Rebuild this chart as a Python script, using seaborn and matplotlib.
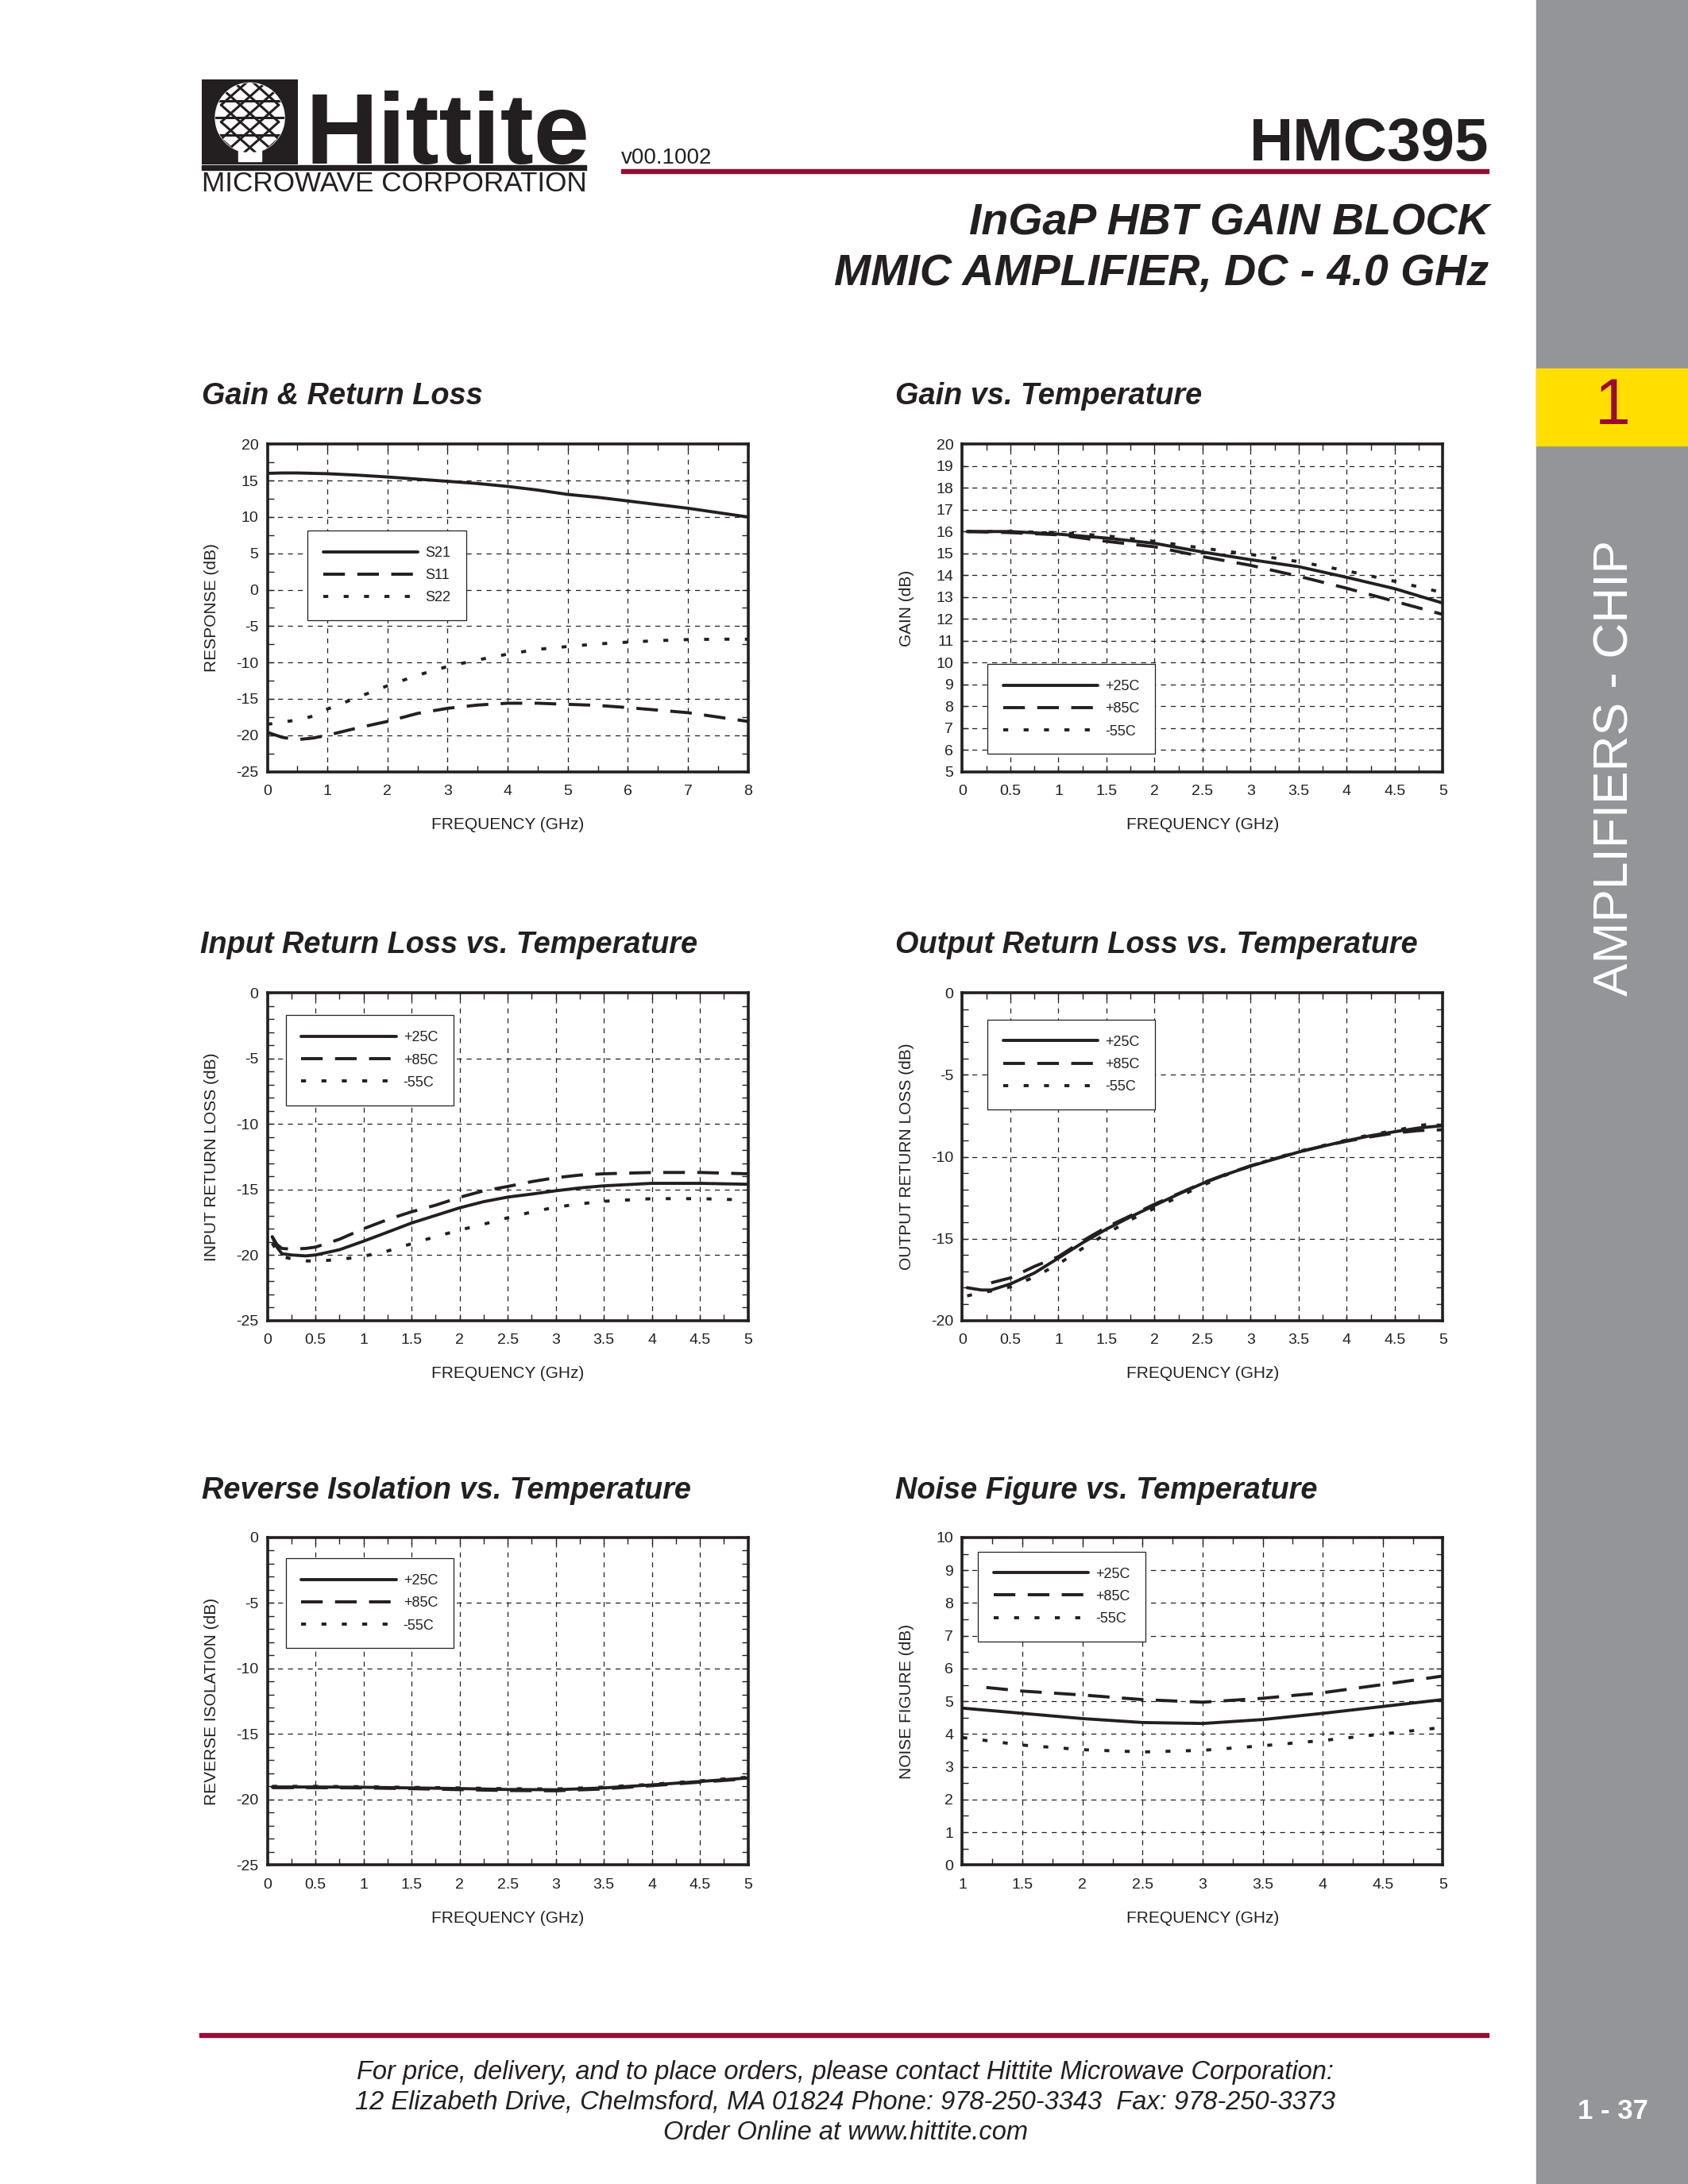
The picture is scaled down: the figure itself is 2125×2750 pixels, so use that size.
import numpy as np
import pandas as pd
import matplotlib
matplotlib.use("Agg")
import matplotlib.pyplot as plt
from matplotlib import font_manager
from matplotlib.patches import Rectangle, Ellipse
from matplotlib.ticker import MultipleLocator
import seaborn as sns

# ---- data ----
# Gain & Return Loss
gr_freq = [0, 0.25, 0.5, 0.75, 1, 1.5, 2, 2.5, 3, 3.5, 4, 4.5, 5, 5.5, 6, 6.5, 7, 7.5, 8]
s21 = [16.0, 16.05, 16.05, 16.0, 15.95, 15.75, 15.5, 15.2, 14.9, 14.6, 14.2, 13.7, 13.1, 12.7, 12.2, 11.7, 11.2, 10.6, 10.0]
s11 = [-19.6, -20.3, -20.6, -20.4, -20.0, -19.0, -18.1, -17.0, -16.3, -15.85, -15.6, -15.6, -15.75, -15.9, -16.2, -16.55, -16.9, -17.5, -18.1]
s22 = [-18.5, -18.2, -17.9, -17.4, -16.4, -14.8, -13.2, -11.75, -10.55, -9.65, -8.85, -8.2, -7.8, -7.45, -7.2, -7.0, -6.85, -6.8, -6.8]

# Gain vs Temperature
gain_freq = [0.05, 0.5, 1, 1.5, 2, 2.5, 3, 3.5, 4, 4.5, 5]
gain_25 = [16.0, 16.0, 15.88, 15.7, 15.46, 15.06, 14.71, 14.39, 13.9, 13.38, 12.72]
gain_85 = [16.0, 15.95, 15.85, 15.55, 15.3, 14.85, 14.45, 13.95, 13.4, 12.8, 12.2]
gain_m55 = [16.0, 16.0, 15.95, 15.8, 15.55, 15.24, 14.95, 14.62, 14.2, 13.72, 13.2]

# Input Return Loss vs Temperature
irl_freq = [0.05, 0.1, 0.15, 0.25, 0.4, 0.5, 0.75, 1, 1.25, 1.5, 1.75, 2, 2.25, 2.5, 2.75, 3, 3.25, 3.5, 4, 4.5, 5]
irl_25 = [-18.6, -19.4, -19.9, -20.0, -20.07, -20.0, -19.6, -18.95, -18.26, -17.56, -16.98, -16.4, -15.93, -15.58, -15.35, -15.1, -14.88, -14.72, -14.53, -14.53, -14.6]
irl_85 = [-18.6, -19.2, -19.5, -19.55, -19.5, -19.4, -18.8, -18.0, -17.3, -16.7, -16.2, -15.6, -15.1, -14.77, -14.4, -14.1, -13.9, -13.8, -13.7, -13.7, -13.8]
irl_m55 = [-19.1, -19.7, -20.1, -20.3, -20.45, -20.47, -20.35, -20.1, -19.7, -19.14, -18.6, -18.1, -17.65, -17.16, -16.72, -16.35, -16.1, -15.9, -15.7, -15.7, -15.8]

# Output Return Loss vs Temperature
orl_freq = [0.05, 0.2, 0.3, 0.5, 0.75, 1, 1.25, 1.5, 1.75, 2, 2.25, 2.5, 2.75, 3, 3.25, 3.5, 3.75, 4, 4.25, 4.5, 4.75, 5]
orl_25 = [-18.0, -18.14, -18.14, -17.77, -17.1, -16.19, -15.26, -14.42, -13.67, -12.97, -12.28, -11.63, -11.07, -10.57, -10.14, -9.71, -9.36, -9.02, -8.71, -8.47, -8.24, -8.1]
orl_85_freq = [0.3, 0.5, 0.75, 1, 1.25, 1.5, 1.75, 2, 2.25, 2.5, 2.75, 3, 3.25, 3.5, 3.75, 4, 4.25, 4.5, 4.75, 5]
orl_85 = [-17.7, -17.4, -16.7, -16.1, -15.15, -14.3, -13.6, -12.9, -12.25, -11.6, -11.05, -10.55, -10.12, -9.7, -9.35, -9.05, -8.78, -8.55, -8.4, -8.35]
orl_m55 = [-18.5, -18.3, -18.2, -17.95, -17.35, -16.55, -15.6, -14.7, -13.85, -13.15, -12.45, -11.75, -11.1, -10.57, -10.1, -9.67, -9.32, -8.98, -8.65, -8.4, -8.1, -7.9]

# Reverse Isolation vs Temperature
riso_freq = [0.05, 0.5, 1, 1.5, 2, 2.5, 3, 3.5, 4, 4.5, 5]
riso_25 = [-19.05, -19.05, -19.07, -19.12, -19.17, -19.24, -19.26, -19.12, -18.89, -18.63, -18.36]
riso_85 = [-19.1, -19.1, -19.12, -19.18, -19.25, -19.32, -19.34, -19.2, -18.95, -18.68, -18.42]
riso_m55 = [-19.0, -19.0, -19.03, -19.08, -19.12, -19.18, -19.2, -19.06, -18.84, -18.58, -18.3]

# Noise Figure vs Temperature
nf_freq = [1, 1.5, 2, 2.5, 3, 3.5, 4, 4.5, 5]
nf_25 = [4.79, 4.63, 4.47, 4.35, 4.32, 4.44, 4.63, 4.84, 5.05]
nf_85_freq = [1.2, 1.5, 2, 2.5, 3, 3.5, 4, 4.5, 5]
nf_85 = [5.42, 5.31, 5.19, 5.05, 4.97, 5.09, 5.26, 5.51, 5.77]
nf_m55 = [3.89, 3.66, 3.52, 3.45, 3.5, 3.64, 3.8, 4.0, 4.2]

temp_labels = ["+25C", "+85C", "-55C"]

# ---- style ----
sns.set_theme(style="ticks")
available = {f.name for f in font_manager.fontManager.ttflist}
NARROW = "Liberation Sans Narrow" if "Liberation Sans Narrow" in available else None
plt.rcParams["font.family"] = ["Liberation Sans", "DejaVu Sans"]
plt.rcParams["axes.unicode_minus"] = False

INK = "#231F20"
RED = "#9B0A33"
GRAY = "#939598"
YELLOW = "#FFDE00"

SOLID = "-"
DASH = (0, (7, 4))
DOT = (0, (1.6, 5.0))
LW = 2.8

fig = plt.figure(figsize=(21.25, 27.5), dpi=100)
fig.patch.set_facecolor("white")


def setup_axes(ax, xlim, ylim, xmaj, xmin, ymaj, ymin, ylabel):
    ax.set_xlim(*xlim)
    ax.set_ylim(*ylim)
    ax.xaxis.set_major_locator(MultipleLocator(xmaj))
    ax.xaxis.set_minor_locator(MultipleLocator(xmin))
    ax.yaxis.set_major_locator(MultipleLocator(ymaj))
    if ymin:
        ax.yaxis.set_minor_locator(MultipleLocator(ymin))
    ax.xaxis.set_major_formatter(plt.FuncFormatter(lambda v, p: f"{v:g}"))
    ax.yaxis.set_major_formatter(plt.FuncFormatter(lambda v, p: f"{v:g}"))
    ax.grid(True, which="major", color=INK, lw=0.9, linestyle=(0, (5, 5)))
    ax.tick_params(which="both", direction="in", top=True, right=True,
                   color=INK, width=1.0)
    ax.tick_params(which="major", length=6, labelsize=14, labelcolor=INK)
    ax.tick_params(which="minor", length=6)
    ax.tick_params(axis="x", which="major", pad=12)
    ax.tick_params(axis="y", which="major", pad=8)
    for sp in ax.spines.values():
        sp.set_visible(True)
        sp.set_linewidth(2.6)
        sp.set_color(INK)
    ax.set_xlabel("FREQUENCY (GHz)", fontsize=15, color=INK)
    ax.set_ylabel(ylabel, fontsize=15, color=INK)
    ax.xaxis.set_label_coords(0.5, -0.14)
    ax.yaxis.set_label_coords(-0.10, 0.5)
    ax.set_axisbelow(True)


def draw(ax, x, y, ls, label):
    sns.lineplot(x=x, y=y, ax=ax, color=INK, lw=LW, linestyle=ls, label=label,
                 errorbar=None, legend=False)


def add_legend(ax, anchor):
    leg = ax.legend(loc="upper left", bbox_to_anchor=anchor, borderaxespad=0,
                    fontsize=13, handlelength=6.6, handletextpad=0.5,
                    borderpad=1.1, labelspacing=0.62, fancybox=False,
                    framealpha=1, edgecolor=INK, facecolor="white")
    leg.get_frame().set_linewidth(0.9)
    for t in leg.get_texts():
        t.set_color(INK)


col_x = [0.1584, 0.5701]
row_y = [0.6467, 0.3954, 0.1461]
AW, AH = 0.2847, 0.1499

# Gain & Return Loss
ax1 = fig.add_axes([col_x[0], row_y[0], AW, AH])
draw(ax1, gr_freq, s21, SOLID, "S21")
draw(ax1, gr_freq, s11, DASH, "S11")
draw(ax1, gr_freq, s22, DOT, "S22")
setup_axes(ax1, (0, 8), (-25, 20), 1, 0.5, 5, 2.5, "RESPONSE (dB)")
add_legend(ax1, (0.084, 0.736))

# Gain vs Temperature
ax2 = fig.add_axes([col_x[1], row_y[0], AW, AH])
draw(ax2, gain_freq, gain_25, SOLID, temp_labels[0])
draw(ax2, gain_freq, gain_85, DASH, temp_labels[1])
draw(ax2, gain_freq, gain_m55, DOT, temp_labels[2])
setup_axes(ax2, (0, 5), (5, 20), 0.5, 0.25, 1, None, "GAIN (dB)")
add_legend(ax2, (0.052, 0.328))

# Input Return Loss vs Temperature
ax3 = fig.add_axes([col_x[0], row_y[1], AW, AH])
draw(ax3, irl_freq, irl_25, SOLID, temp_labels[0])
draw(ax3, irl_freq, irl_85, DASH, temp_labels[1])
draw(ax3, irl_freq, irl_m55, DOT, temp_labels[2])
setup_axes(ax3, (0, 5), (-25, 0), 0.5, 0.25, 5, 1, "INPUT RETURN LOSS (dB)")
add_legend(ax3, (0.038, 0.932))

# Output Return Loss vs Temperature
ax4 = fig.add_axes([col_x[1], row_y[1], AW, AH])
draw(ax4, orl_freq, orl_25, SOLID, temp_labels[0])
draw(ax4, orl_85_freq, orl_85, DASH, temp_labels[1])
draw(ax4, orl_freq, orl_m55, DOT, temp_labels[2])
setup_axes(ax4, (0, 5), (-20, 0), 0.5, 0.25, 5, 1, "OUTPUT RETURN LOSS (dB)")
add_legend(ax4, (0.052, 0.919))

# Reverse Isolation vs Temperature
ax5 = fig.add_axes([col_x[0], row_y[2], AW, AH])
draw(ax5, riso_freq, riso_25, SOLID, temp_labels[0])
draw(ax5, riso_freq, riso_85, DASH, temp_labels[1])
draw(ax5, riso_freq, riso_m55, DOT, temp_labels[2])
setup_axes(ax5, (0, 5), (-25, 0), 0.5, 0.25, 5, 1, "REVERSE ISOLATION (dB)")
add_legend(ax5, (0.038, 0.936))

# Noise Figure vs Temperature
ax6 = fig.add_axes([col_x[1], row_y[2], AW, AH])
draw(ax6, nf_freq, nf_25, SOLID, temp_labels[0])
draw(ax6, nf_85_freq, nf_85, DASH, temp_labels[1])
draw(ax6, nf_freq, nf_m55, DOT, temp_labels[2])
setup_axes(ax6, (1, 5), (0, 10), 0.5, 0.25, 1, 0.5, "NOISE FIGURE (dB)")
add_legend(ax6, (0.032, 0.957))

# plot titles
titles = [
    ("Gain & Return Loss", 0.1196, 0.815),
    ("Gain vs. Temperature", 0.5305, 0.815),
    ("Input Return Loss vs. Temperature", 0.1184, 0.5638),
    ("Output Return Loss vs. Temperature", 0.5305, 0.5638),
    ("Reverse Isolation vs. Temperature", 0.1196, 0.3138),
    ("Noise Figure vs. Temperature", 0.5305, 0.3138),
]
for txt, x, y in titles:
    fig.text(x, y, txt, fontsize=27.3, fontweight="bold", fontstyle="italic",
             color=INK, ha="left", va="baseline")

# ---- page decoration ----
# right sidebar
fig.add_artist(Rectangle((0.9101, 0), 0.0899, 1, transform=fig.transFigure,
                         color=GRAY, zorder=0))
fig.add_artist(Rectangle((0.9101, 0.796), 0.0899, 0.0351, transform=fig.transFigure,
                         color=YELLOW, zorder=1))
fig.text(0.9555, 0.8135, "1", fontsize=58, color=RED, ha="center", va="center")
side_size = 53 if NARROW else 44.8
fig.text(0.957, 0.6485, "AMPLIFIERS - CHIP",
         family=[NARROW or "Liberation Sans", "DejaVu Sans"],
         fontsize=side_size, color="white", rotation=90, ha="center", va="center")
fig.text(0.9555, 0.030, "1 - 37", fontsize=25, fontweight="bold", color="white",
         ha="center", va="baseline")

# header: logo block
logo_ax = fig.add_axes([0.1196, 0.9247, 0.0569, 0.0389])
logo_ax.set_xlim(0, 1)
logo_ax.set_ylim(0, 1)
logo_ax.axis("off")
logo_ax.add_patch(Rectangle((0, 0), 1, 1, color=INK))
emblem = Ellipse((0.5, 0.55), 0.72, 0.82, color="white")
logo_ax.add_patch(emblem)
logo_ax.add_patch(Rectangle((0.38, 0.04), 0.24, 0.14, color="white"))
for k in np.linspace(-0.6, 0.6, 7):
    logo_ax.plot([0.2, 0.8], [0.3 + k, 0.9 + k], color=INK, lw=2.2, clip_path=emblem)
    logo_ax.plot([0.2, 0.8], [0.9 + k, 0.3 + k], color=INK, lw=2.2, clip_path=emblem)
for yy in [0.35, 0.55, 0.75]:
    logo_ax.plot([0.1, 0.9], [yy, yy], color=INK, lw=2.2, clip_path=emblem)

hit_size = 108 if NARROW else 91
fig.text(0.1810, 0.9252, "Hittite", family=[NARROW or "Liberation Sans", "DejaVu Sans"],
         fontsize=hit_size, fontweight="bold", color=INK, ha="left", va="baseline")
fig.add_artist(Rectangle((0.1196, 0.9222), 0.2278, 0.0020, transform=fig.transFigure,
                         color=INK))
fig.text(0.1196, 0.9122, "MICROWAVE CORPORATION", fontsize=25.3, color=INK,
         ha="left", va="baseline")

fig.text(0.368, 0.9250, "v00.1002", fontsize=20, color=INK, ha="left", va="baseline")
fig.add_artist(Rectangle((0.368, 0.9206), 0.514, 0.0020, transform=fig.transFigure,
                         color=RED))
fig.text(0.882, 0.9265, "HMC395", fontsize=55, fontweight="bold", color=INK,
         ha="right", va="baseline")
fig.text(0.882, 0.8925, "InGaP HBT GAIN BLOCK", fontsize=40, fontweight="bold",
         fontstyle="italic", color=INK, ha="right", va="baseline")
fig.text(0.882, 0.8693, "MMIC AMPLIFIER, DC - 4.0 GHz", fontsize=40, fontweight="bold",
         fontstyle="italic", color=INK, ha="right", va="baseline")

# footer
fig.add_artist(Rectangle((0.118, 0.0672), 0.764, 0.0018, transform=fig.transFigure,
                         color=RED))
footer = [
    "For price, delivery, and to place orders, please contact Hittite Microwave Corporation:",
    "12 Elizabeth Drive, Chelmsford, MA 01824 Phone: 978-250-3343  Fax: 978-250-3373",
    "Order Online at www.hittite.com",
]
for line, y in zip(footer, [0.0480, 0.0344, 0.0204]):
    fig.text(0.5008, y, line, fontsize=23.5, fontstyle="italic", color=INK,
             ha="center", va="baseline")

fig.savefig("out.png", dpi=100)
